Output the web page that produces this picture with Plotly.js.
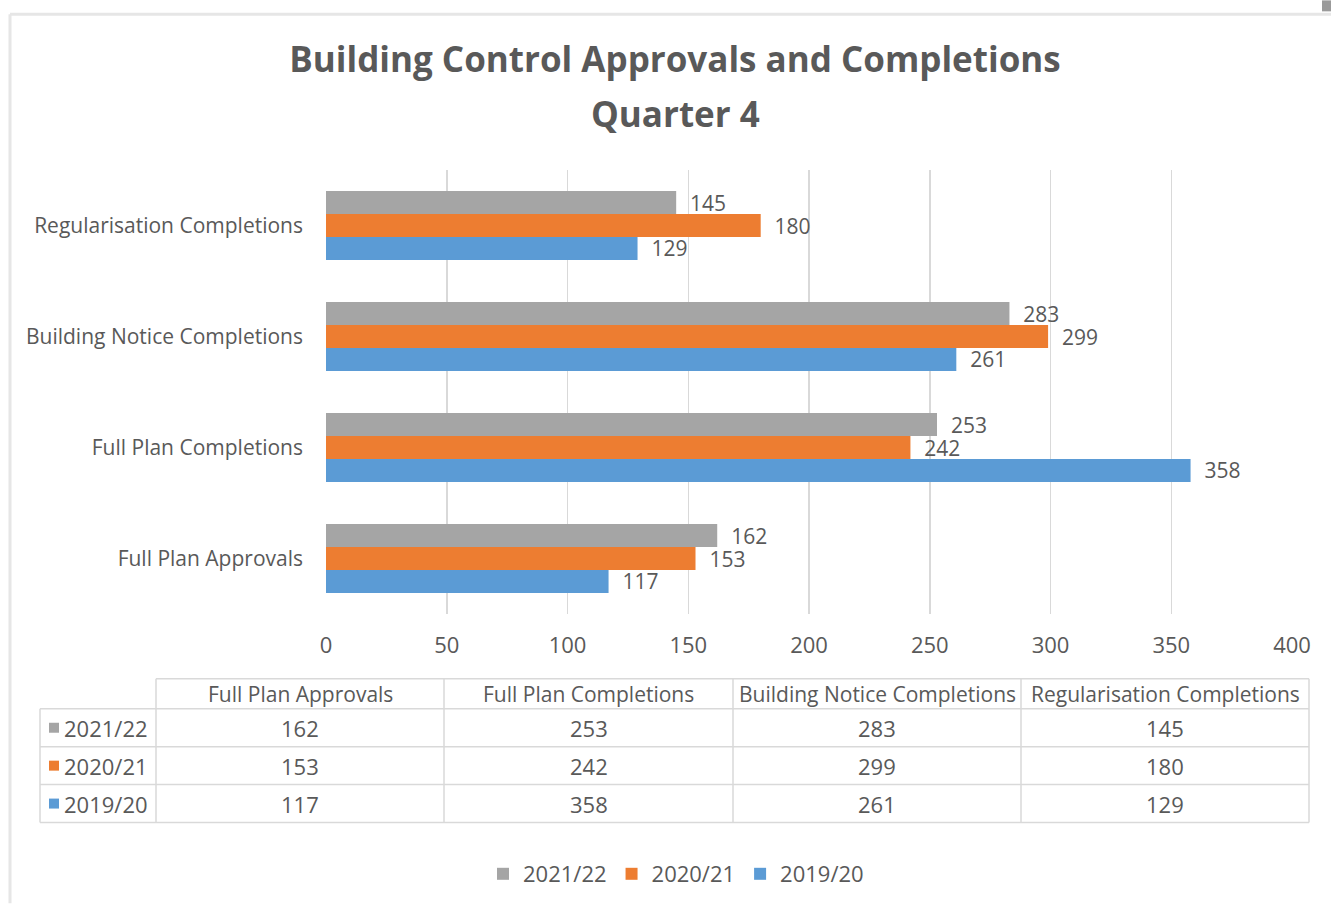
<!DOCTYPE html>
<html>
<head>
<meta charset="utf-8">
<script src="https://cdn.plot.ly/plotly-3.0.1.min.js"></script>
<style>html,body{margin:0;padding:0;background:#fff;}#chart{width:1331px;height:905px;}</style>
</head>
<body>
<div id="chart"></div>
<script>
// ---- data ----
const categories = ['Full Plan Approvals', 'Full Plan Completions', 'Building Notice Completions', 'Regularisation Completions'];
const seriesNames = ['2021/22', '2020/21', '2019/20'];
const values2122 = [162, 253, 283, 145];
const values2021 = [153, 242, 299, 180];
const values1920 = [117, 358, 261, 129];
const seriesColors = ['#A5A5A5', '#ED7D31', '#5B9BD5'];
const xTickVals = [0, 50, 100, 150, 200, 250, 300, 350, 400];
const chartTitle = 'Building Control Approvals and Completions';
const chartSubtitle = 'Quarter 4';

// ---- layout geometry helpers (pixel -> paper) ----
const W = 1331, Hh = 905;
const M = {l: 326, r: 39, t: 170, b: 290};
const PW = W - M.l - M.r, PH = Hh - M.t - M.b;
const px = x => (x - M.l) / PW;
const py = y => 1 - (y - M.t) / PH;

const FONT = "'Open Sans', sans-serif";
const TXT = '#595959';
const FS = 21;   // words
const FN = 22;   // numbers
const FL = 21;   // bar labels

const seriesValues = [values2122, values2021, values1920];

// traces: first trace is drawn lowest in horizontal grouped bars
const traces = [2, 1, 0].map(i => ({
  type: 'bar',
  orientation: 'h',
  name: seriesNames[i],
  y: categories,
  x: seriesValues[i],
  marker: {color: seriesColors[i]},
  text: seriesValues[i].map(v => String(v)),
  texttemplate: '\u00a0\u00a0%{text}',
  textposition: 'outside',
  constraintext: 'none',
  cliponaxis: false,
  textfont: {family: FONT, size: FL, color: TXT},
  outsidetextfont: {family: FONT, size: FL, color: TXT},
  hoverinfo: 'x+name'
}));

const shapes = [];
const annotations = [];

// card frame
shapes.push({type: 'line', xref: 'paper', yref: 'paper', x0: px(10), x1: px(10), y0: py(14), y1: py(905), line: {color: '#e6e6e6', width: 3}});
shapes.push({type: 'line', xref: 'paper', yref: 'paper', x0: px(10), x1: px(1331), y0: py(14), y1: py(14), line: {color: '#e6e6e6', width: 3}});
shapes.push({type: 'rect', xref: 'paper', yref: 'paper', x0: px(1322), x1: px(1331), y0: py(0), y1: py(11), fillcolor: '#9a9a9a', line: {width: 0}});

// subtitle line
annotations.push({xref: 'paper', yref: 'paper', x: px(675), y: py(113), text: '<b>' + chartSubtitle + '</b>', showarrow: false,
  xanchor: 'center', yanchor: 'middle', font: {family: FONT, size: 35, color: TXT}});

// data table
const colX = [40, 156, 444, 733, 1021, 1309];
const rowY = [680, 710, 748, 786, 824];
const lineStyle = {color: '#d9d9d9', width: 1.5};
shapes.push({type: 'line', xref: 'paper', yref: 'paper', x0: px(colX[1]), x1: px(colX[5]), y0: py(rowY[0]), y1: py(rowY[0]), line: lineStyle});
for (let r = 1; r < rowY.length; r++) {
  shapes.push({type: 'line', xref: 'paper', yref: 'paper', x0: px(colX[0]), x1: px(colX[5]), y0: py(rowY[r]), y1: py(rowY[r]), line: lineStyle});
}
shapes.push({type: 'line', xref: 'paper', yref: 'paper', x0: px(colX[0]), x1: px(colX[0]), y0: py(rowY[1]), y1: py(rowY[4]), line: lineStyle});
for (let c = 1; c < colX.length; c++) {
  shapes.push({type: 'line', xref: 'paper', yref: 'paper', x0: px(colX[c]), x1: px(colX[c]), y0: py(rowY[0]), y1: py(rowY[4]), line: lineStyle});
}
categories.forEach((cat, j) => {
  annotations.push({xref: 'paper', yref: 'paper', x: px((colX[j + 1] + colX[j + 2]) / 2), y: py((rowY[0] + rowY[1]) / 2),
    text: cat, showarrow: false, xanchor: 'center', yanchor: 'middle', font: {family: FONT, size: FS, color: TXT}});
});
seriesNames.forEach((name, i) => {
  const yc = (rowY[i + 1] + rowY[i + 2]) / 2;
  shapes.push({type: 'rect', xref: 'paper', yref: 'paper', x0: px(49), x1: px(59), y0: py(yc - 5), y1: py(yc + 5), fillcolor: seriesColors[i], line: {width: 0}});
  annotations.push({xref: 'paper', yref: 'paper', x: px(62), y: py(yc), text: name, showarrow: false,
    xanchor: 'left', yanchor: 'middle', font: {family: FONT, size: FN, color: TXT}});
  seriesValues[i].forEach((v, j) => {
    annotations.push({xref: 'paper', yref: 'paper', x: px((colX[j + 1] + colX[j + 2]) / 2), y: py(yc),
      text: String(v), showarrow: false, xanchor: 'center', yanchor: 'middle', font: {family: FONT, size: FN, color: TXT}});
  });
});

const layout = {
  width: W, height: Hh,
  margin: M,
  paper_bgcolor: '#fff', plot_bgcolor: '#fff',
  font: {family: FONT, color: TXT},
  title: {text: '<b>' + chartTitle + '</b>', font: {family: FONT, size: 35, color: TXT},
    xref: 'container', yref: 'container', x: 675 / W, xanchor: 'center', y: 1 - 60 / Hh, yanchor: 'middle'},
  barmode: 'group',
  bargap: 0.38,
  bargroupgap: 0,
  showlegend: true,
  legend: {orientation: 'h', traceorder: 'reversed', x: px(676), xanchor: 'center', y: py(874), yanchor: 'middle',
    font: {family: FONT, size: FN, color: TXT}, itemwidth: 30},
  xaxis: {range: [0, 400], tickvals: xTickVals, showgrid: true, gridcolor: '#d9d9d9', gridwidth: 1.5,
    zeroline: false, showline: false, ticks: '', ticklabelstandoff: 16,
    tickfont: {family: FONT, size: FN, color: TXT}, fixedrange: true, automargin: false},
  yaxis: {type: 'category', categoryarray: categories, range: [-0.5, 3.5], showgrid: false, zeroline: false, showline: false,
    ticks: '', ticklabelstandoff: 22, tickfont: {family: FONT, size: FS, color: TXT}, automargin: false, fixedrange: true},
  shapes: shapes,
  annotations: annotations
};

Plotly.newPlot('chart', traces, layout, {displayModeBar: false, staticPlot: true});
</script>
</body>
</html>
